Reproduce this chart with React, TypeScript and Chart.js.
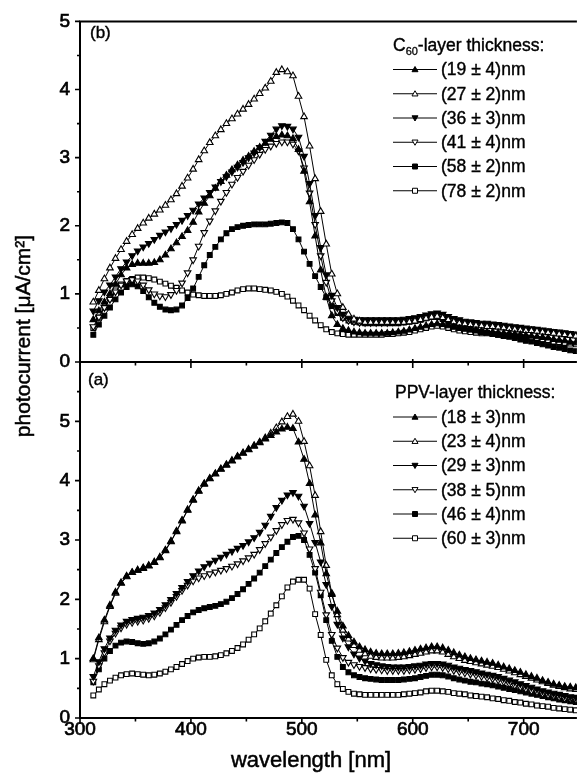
import React, { useEffect, useRef } from 'react';
import { Chart, registerables } from 'chart.js';

Chart.register(...registerables);

const FAMILY = '"Liberation Sans", Arial, Helvetica, sans-serif';

// sampling grid (nm)
const wavelength = [
  312, 317, 322, 327, 332, 337, 342, 347, 352, 357,
  362, 367, 372, 377, 382, 387, 392, 397, 402, 407,
  412, 417, 422, 427, 432, 437, 442, 447, 452, 457,
  462, 467, 472, 477, 482, 487, 492, 497, 502, 507,
  512, 517, 522, 527, 532, 537, 542, 547, 552, 557,
  562, 567, 572, 577, 582, 587, 592, 597, 602, 607,
  612, 617, 622, 627, 632, 637, 642, 647, 652, 657,
  662, 667, 672, 677, 682, 687, 692, 697, 702, 707,
  712, 717, 722, 727, 732, 737, 742, 747,
];

// ---- panel (b): C60-layer thickness ----
const c60_19 = [
  0.62, 0.75, 0.88, 1.00, 1.14, 1.28, 1.38, 1.43, 1.45, 1.45,
  1.45, 1.46, 1.50, 1.57, 1.66, 1.75, 1.84, 1.93, 2.05, 2.20,
  2.33, 2.44, 2.55, 2.65, 2.74, 2.82, 2.89, 2.96, 3.02, 3.09,
  3.15, 3.21, 3.27, 3.31, 3.33, 3.32, 3.28, 3.12, 2.80, 2.35,
  1.85, 1.35, 0.95, 0.68, 0.55, 0.49, 0.46, 0.44, 0.43, 0.42,
  0.42, 0.42, 0.42, 0.42, 0.43, 0.44, 0.45, 0.47, 0.49, 0.51,
  0.53, 0.55, 0.56, 0.55, 0.53, 0.51, 0.49, 0.48, 0.47, 0.46,
  0.45, 0.44, 0.44, 0.43, 0.42, 0.42, 0.41, 0.40, 0.39, 0.38,
  0.37, 0.36, 0.35, 0.33, 0.32, 0.31, 0.29, 0.28,
];
const c60_27 = [
  0.88, 1.05, 1.22, 1.38, 1.52, 1.65, 1.77, 1.87, 1.96, 2.04,
  2.11, 2.17, 2.23, 2.30, 2.38, 2.47, 2.58, 2.70, 2.83, 2.97,
  3.10, 3.22, 3.32, 3.41, 3.50, 3.57, 3.64, 3.71, 3.78, 3.86,
  3.94, 4.02, 4.12, 4.25, 4.29, 4.26, 4.20, 3.90, 3.60, 3.17,
  2.69, 2.21, 1.73, 1.29, 1.00, 0.80, 0.70, 0.63, 0.60, 0.58,
  0.58, 0.58, 0.58, 0.58, 0.58, 0.58, 0.58, 0.59, 0.60, 0.62,
  0.64, 0.66, 0.67, 0.65, 0.62, 0.59, 0.57, 0.56, 0.55, 0.54,
  0.53, 0.52, 0.52, 0.51, 0.50, 0.49, 0.48, 0.47, 0.46, 0.46,
  0.45, 0.44, 0.43, 0.42, 0.41, 0.40, 0.39, 0.38,
];
const c60_36 = [
  0.75, 0.90, 1.03, 1.13, 1.25, 1.37, 1.47, 1.56, 1.63, 1.69,
  1.74, 1.80, 1.86, 1.91, 1.96, 2.02, 2.08, 2.15, 2.23, 2.32,
  2.41, 2.49, 2.57, 2.65, 2.72, 2.79, 2.86, 2.93, 3.00, 3.07,
  3.15, 3.24, 3.33, 3.42, 3.47, 3.46, 3.42, 3.30, 3.02, 2.62,
  2.15, 1.68, 1.28, 0.98, 0.80, 0.70, 0.65, 0.63, 0.62, 0.62,
  0.62, 0.62, 0.62, 0.62, 0.62, 0.62, 0.63, 0.64, 0.65, 0.67,
  0.69, 0.71, 0.72, 0.70, 0.67, 0.64, 0.62, 0.60, 0.59, 0.58,
  0.57, 0.57, 0.56, 0.55, 0.54, 0.53, 0.52, 0.51, 0.50, 0.49,
  0.48, 0.47, 0.46, 0.45, 0.44, 0.43, 0.42, 0.41,
];
const c60_41 = [
  0.52, 0.66, 0.80, 0.92, 1.03, 1.13, 1.19, 1.21, 1.19, 1.13,
  1.06, 1.00, 0.97, 0.96, 0.99, 1.05, 1.16, 1.31, 1.50, 1.70,
  1.90, 2.07, 2.22, 2.36, 2.49, 2.61, 2.71, 2.80, 2.89, 2.97,
  3.05, 3.12, 3.17, 3.21, 3.23, 3.23, 3.20, 3.10, 2.85, 2.48,
  2.02, 1.56, 1.17, 0.90, 0.74, 0.65, 0.61, 0.59, 0.58, 0.58,
  0.58, 0.58, 0.58, 0.58, 0.59, 0.59, 0.60, 0.61, 0.62, 0.64,
  0.66, 0.68, 0.69, 0.67, 0.64, 0.61, 0.59, 0.57, 0.56, 0.55,
  0.54, 0.54, 0.53, 0.52, 0.51, 0.50, 0.49, 0.48, 0.47, 0.46,
  0.45, 0.44, 0.43, 0.42, 0.41, 0.40, 0.39, 0.38,
];
const c60_58 = [
  0.40, 0.55, 0.68, 0.80, 0.92, 1.02, 1.10, 1.14, 1.11, 1.04,
  0.95, 0.87, 0.81, 0.77, 0.76, 0.77, 0.83, 0.94, 1.08, 1.25,
  1.42, 1.57, 1.69, 1.80, 1.89, 1.95, 1.98, 2.00, 2.01, 2.02,
  2.02, 2.02, 2.03, 2.04, 2.05, 2.04, 1.95, 1.80, 1.62, 1.44,
  1.26, 1.10, 0.95, 0.82, 0.72, 0.65, 0.61, 0.59, 0.58, 0.57,
  0.57, 0.57, 0.57, 0.57, 0.57, 0.57, 0.58, 0.59, 0.60, 0.62,
  0.64, 0.66, 0.66, 0.63, 0.59, 0.55, 0.52, 0.50, 0.48, 0.46,
  0.44, 0.43, 0.41, 0.40, 0.38, 0.37, 0.35, 0.33, 0.31, 0.30,
  0.28, 0.26, 0.24, 0.22, 0.21, 0.19, 0.17, 0.16,
];
const c60_78 = [
  0.50, 0.65, 0.80, 0.93, 1.05, 1.14, 1.19, 1.22, 1.24, 1.24,
  1.23, 1.21, 1.18, 1.15, 1.12, 1.09, 1.05, 1.02, 0.99, 0.98,
  0.97, 0.97, 0.97, 0.98, 1.00, 1.02, 1.05, 1.07, 1.08, 1.08,
  1.07, 1.06, 1.05, 1.03, 1.00, 0.96, 0.90, 0.83, 0.76, 0.68,
  0.61, 0.54, 0.48, 0.44, 0.42, 0.41, 0.40, 0.40, 0.40, 0.40,
  0.40, 0.40, 0.40, 0.41, 0.41, 0.42, 0.43, 0.44, 0.46, 0.48,
  0.50, 0.52, 0.53, 0.52, 0.50, 0.48, 0.46, 0.45, 0.44, 0.43,
  0.42, 0.42, 0.41, 0.40, 0.39, 0.39, 0.38, 0.37, 0.36, 0.35,
  0.34, 0.33, 0.32, 0.30, 0.29, 0.28, 0.27, 0.26,
];

// ---- panel (a): PPV-layer thickness ----
const ppv_18 = [
  1.00, 1.35, 1.65, 1.90, 2.12, 2.28, 2.39, 2.45, 2.49, 2.52,
  2.56, 2.62, 2.70, 2.82, 2.97, 3.14, 3.32, 3.50, 3.67, 3.82,
  3.94, 4.03, 4.11, 4.19, 4.26, 4.33, 4.40, 4.46, 4.52, 4.58,
  4.64, 4.70, 4.76, 4.82, 4.87, 4.90, 4.88, 4.65, 4.36, 3.95,
  3.42, 2.95, 2.43, 2.08, 1.80, 1.55, 1.39, 1.28, 1.20, 1.15,
  1.11, 1.09, 1.08, 1.08, 1.08, 1.09, 1.10, 1.12, 1.14, 1.16,
  1.18, 1.20, 1.20, 1.18, 1.14, 1.10, 1.06, 1.03, 1.00, 0.98,
  0.96, 0.94, 0.92, 0.89, 0.86, 0.83, 0.80, 0.77, 0.73, 0.70,
  0.67, 0.63, 0.60, 0.57, 0.55, 0.53, 0.52, 0.51,
];
const ppv_23 = [
  0.98, 1.32, 1.62, 1.88, 2.10, 2.27, 2.38, 2.45, 2.49, 2.53,
  2.57, 2.63, 2.71, 2.83, 2.98, 3.15, 3.33, 3.51, 3.68, 3.83,
  3.95, 4.04, 4.12, 4.20, 4.27, 4.34, 4.41, 4.47, 4.53, 4.59,
  4.65, 4.72, 4.80, 4.89, 4.99, 5.08, 5.12, 5.00, 4.66, 4.25,
  3.75, 3.14, 2.57, 2.10, 1.74, 1.48, 1.33, 1.22, 1.14, 1.08,
  1.04, 1.02, 1.01, 1.01, 1.01, 1.02, 1.03, 1.05, 1.07, 1.09,
  1.11, 1.13, 1.13, 1.11, 1.07, 1.03, 1.00, 0.97, 0.95, 0.93,
  0.91, 0.89, 0.87, 0.85, 0.82, 0.79, 0.76, 0.73, 0.70, 0.67,
  0.64, 0.61, 0.58, 0.55, 0.53, 0.51, 0.49, 0.48,
];
const ppv_29 = [
  0.70, 0.95, 1.17, 1.35, 1.48, 1.57, 1.63, 1.66, 1.68, 1.70,
  1.73, 1.77, 1.83, 1.91, 2.00, 2.10, 2.20, 2.30, 2.40, 2.48,
  2.55, 2.61, 2.66, 2.71, 2.76, 2.81, 2.86, 2.91, 2.97, 3.04,
  3.13, 3.25, 3.40, 3.55, 3.67, 3.76, 3.80, 3.74, 3.57, 3.28,
  2.96, 2.63, 2.25, 1.88, 1.58, 1.35, 1.20, 1.08, 1.01, 0.96,
  0.92, 0.90, 0.88, 0.87, 0.86, 0.86, 0.86, 0.87, 0.88, 0.89,
  0.91, 0.92, 0.92, 0.91, 0.89, 0.86, 0.84, 0.82, 0.80, 0.78,
  0.76, 0.74, 0.72, 0.70, 0.67, 0.64, 0.61, 0.58, 0.55, 0.52,
  0.49, 0.46, 0.44, 0.42, 0.40, 0.38, 0.36, 0.35,
];
const ppv_38 = [
  0.62, 0.88, 1.10, 1.30, 1.43, 1.52, 1.58, 1.61, 1.63, 1.65,
  1.68, 1.72, 1.78, 1.86, 1.95, 2.05, 2.15, 2.24, 2.31, 2.36,
  2.40, 2.43, 2.46, 2.49, 2.52, 2.56, 2.60, 2.65, 2.70, 2.76,
  2.84, 2.94, 3.05, 3.16, 3.26, 3.33, 3.35, 3.29, 3.12, 2.85,
  2.52, 2.12, 1.74, 1.41, 1.18, 1.02, 0.94, 0.90, 0.87, 0.85,
  0.83, 0.82, 0.81, 0.80, 0.80, 0.80, 0.80, 0.81, 0.82, 0.83,
  0.85, 0.86, 0.86, 0.85, 0.83, 0.80, 0.78, 0.76, 0.74, 0.72,
  0.70, 0.68, 0.66, 0.64, 0.61, 0.58, 0.55, 0.52, 0.49, 0.46,
  0.44, 0.41, 0.39, 0.37, 0.35, 0.33, 0.32, 0.31,
];
const ppv_46 = [
  0.60, 0.82, 1.00, 1.13, 1.22, 1.27, 1.29, 1.28, 1.26, 1.25,
  1.26, 1.29, 1.34, 1.41, 1.49, 1.57, 1.65, 1.72, 1.78, 1.82,
  1.85, 1.87, 1.89, 1.92, 1.96, 2.02, 2.09, 2.17, 2.26, 2.35,
  2.45, 2.56, 2.67, 2.78, 2.88, 2.97, 3.05, 3.07, 3.00, 2.75,
  2.45, 2.07, 1.65, 1.30, 1.03, 0.86, 0.77, 0.72, 0.69, 0.67,
  0.66, 0.65, 0.64, 0.64, 0.64, 0.64, 0.65, 0.66, 0.67, 0.69,
  0.71, 0.73, 0.73, 0.72, 0.70, 0.67, 0.65, 0.63, 0.61, 0.60,
  0.58, 0.57, 0.55, 0.53, 0.51, 0.49, 0.47, 0.45, 0.43, 0.41,
  0.39, 0.37, 0.35, 0.33, 0.31, 0.30, 0.28, 0.27,
];
const ppv_60 = [
  0.38, 0.48, 0.57, 0.63, 0.68, 0.72, 0.74, 0.75, 0.74, 0.73,
  0.72, 0.73, 0.75, 0.78, 0.82, 0.86, 0.91, 0.96, 1.00, 1.02,
  1.03, 1.03, 1.04, 1.06, 1.09, 1.13, 1.18, 1.24, 1.32, 1.41,
  1.51, 1.63, 1.76, 1.90, 2.05, 2.20, 2.30, 2.33, 2.33, 2.18,
  1.75, 1.40, 0.98, 0.72, 0.57, 0.49, 0.44, 0.41, 0.40, 0.39,
  0.39, 0.39, 0.39, 0.39, 0.39, 0.39, 0.40, 0.41, 0.42, 0.43,
  0.45, 0.46, 0.46, 0.45, 0.44, 0.42, 0.41, 0.40, 0.38, 0.37,
  0.36, 0.35, 0.33, 0.32, 0.30, 0.29, 0.27, 0.26, 0.24, 0.23,
  0.21, 0.20, 0.19, 0.17, 0.16, 0.15, 0.14, 0.13,
];

const c60Labels = ['(19 ± 4)nm', '(27 ± 2)nm', '(36 ± 3)nm', '(41 ± 4)nm', '(58 ± 2)nm', '(78 ± 2)nm'];
const ppvLabels = ['(18 ± 3)nm', '(23 ± 4)nm', '(29 ± 3)nm', '(38 ± 5)nm', '(46 ± 4)nm', '(60 ± 3)nm'];

const xMajor = [300, 400, 500, 600, 700];
const xMinor = [350, 450, 550, 650];
const yMajorTop = [0, 1, 2, 3, 4, 5];
const yMinorTop = [0.5, 1.5, 2.5, 3.5, 4.5];
const yMajorBottom = [0, 1, 2, 3, 4, 5];
const yMinorBottom = [0.5, 1.5, 2.5, 3.5, 4.5, 5.5];

type Mk = { style: 'triangle' | 'rect'; rot: number; filled: boolean };
const markers: Mk[] = [
  { style: 'triangle', rot: 0, filled: true },
  { style: 'triangle', rot: 0, filled: false },
  { style: 'triangle', rot: 180, filled: true },
  { style: 'triangle', rot: 180, filled: false },
  { style: 'rect', rot: 0, filled: true },
  { style: 'rect', rot: 0, filled: false },
];

function makeDatasets(series: number[][], labels: string[]) {
  return series.map((vals, i) => ({
    label: labels[i],
    data: wavelength.map((x, j) => ({ x, y: vals[j] })),
    borderColor: '#000',
    borderWidth: 1,
    pointStyle: markers[i].style,
    pointRotation: markers[i].rot,
    pointRadius: markers[i].style === 'rect' ? 3.4 : 3.8,
    pointBackgroundColor: markers[i].filled ? '#000' : '#fff',
    pointBorderColor: '#000',
    pointBorderWidth: 1.1,
    tension: 0,
    fill: false,
  }));
}

function drawLegendMarker(ctx: CanvasRenderingContext2D, mk: Mk, x: number, y: number) {
  ctx.beginPath();
  if (mk.style === 'rect') {
    ctx.rect(x - 2.5, y - 2.5, 5, 5);
  } else if (mk.rot === 0) {
    ctx.moveTo(x, y - 3);
    ctx.lineTo(x + 3, y + 2.2);
    ctx.lineTo(x - 3, y + 2.2);
    ctx.closePath();
  } else {
    ctx.moveTo(x, y + 3);
    ctx.lineTo(x + 3, y - 2.2);
    ctx.lineTo(x - 3, y - 2.2);
    ctx.closePath();
  }
  ctx.fillStyle = mk.filled ? '#000' : '#fff';
  ctx.fill();
  ctx.lineWidth = 1;
  ctx.strokeStyle = '#000';
  ctx.stroke();
}

function heavyText(ctx: CanvasRenderingContext2D, s: string, x: number, y: number, w = 0.5) {
  ctx.fillText(s, x, y);
  ctx.lineWidth = w;
  ctx.strokeStyle = '#000';
  ctx.strokeText(s, x, y);
}

function framePlugin(isTop: boolean) {
  return {
    id: 'frame' + (isTop ? 'Top' : 'Bottom'),
    afterDraw(chart: any) {
      const { ctx, chartArea: a, scales } = chart;
      const xs = scales.x;
      const ys = scales.y;
      ctx.save();
      ctx.strokeStyle = '#000';
      ctx.lineWidth = 2;
      ctx.beginPath();
      ctx.moveTo(a.left, a.top - (isTop ? 1 : 0));
      ctx.lineTo(a.left, a.bottom + 1);
      ctx.moveTo(a.left - 1, a.bottom);
      ctx.lineTo(a.right, a.bottom);
      if (isTop) {
        ctx.moveTo(a.left - 1, a.top);
        ctx.lineTo(a.right, a.top);
      }
      ctx.stroke();
      ctx.lineWidth = 1.6;
      ctx.beginPath();
      const yMaj = isTop ? yMajorTop : yMajorBottom;
      const yMin = isTop ? yMinorTop : yMinorBottom;
      yMaj.forEach((v) => {
        const p = ys.getPixelForValue(v);
        ctx.moveTo(a.left - 5, p);
        ctx.lineTo(a.left, p);
      });
      yMin.forEach((v) => {
        const p = ys.getPixelForValue(v);
        ctx.moveTo(a.left - 3, p);
        ctx.lineTo(a.left, p);
      });
      xMajor.forEach((v) => {
        const p = xs.getPixelForValue(v);
        ctx.moveTo(p, a.bottom - (isTop ? 3 : 0));
        ctx.lineTo(p, a.bottom + 6);
      });
      xMinor.forEach((v) => {
        const p = xs.getPixelForValue(v);
        ctx.moveTo(p, a.bottom - (isTop ? 1 : 0));
        ctx.lineTo(p, a.bottom + 3.5);
      });
      ctx.stroke();
      ctx.restore();
    },
  };
}

function legendPlugin(isTop: boolean) {
  return {
    id: 'legendBox' + (isTop ? 'Top' : 'Bottom'),
    afterDraw(chart: any) {
      const ctx: CanvasRenderingContext2D = chart.ctx;
      const labels = isTop ? c60Labels : ppvLabels;
      const headerBase = isTop ? 51 : 398;
      const row0 = isTop ? 69.5 : 417;
      const step = 24.25;
      ctx.save();
      ctx.fillStyle = '#000';
      ctx.textAlign = 'left';
      ctx.textBaseline = 'alphabetic';
      const big = `17.5px ${FAMILY}`;
      ctx.font = big;
      if (isTop) {
        let x = 393;
        heavyText(ctx, 'C', x, headerBase, 0.4);
        x += ctx.measureText('C').width;
        ctx.font = `11px ${FAMILY}`;
        heavyText(ctx, '60', x, headerBase + 4, 0.3);
        x += ctx.measureText('60').width;
        ctx.font = big;
        heavyText(ctx, '-layer thickness:', x, headerBase, 0.4);
      } else {
        heavyText(ctx, 'PPV-layer thickness:', 395, headerBase, 0.4);
      }
      labels.forEach((lab, i) => {
        const y = row0 + i * step;
        ctx.beginPath();
        ctx.moveTo(393, y);
        ctx.lineTo(437, y);
        ctx.lineWidth = 1;
        ctx.strokeStyle = '#000';
        ctx.stroke();
        drawLegendMarker(ctx, markers[i], 415, y);
        ctx.fillStyle = '#000';
        ctx.font = big;
        ctx.textBaseline = 'middle';
        heavyText(ctx, lab, 441, y + 1, 0.4);
      });
      // panel letter
      ctx.font = `17px ${FAMILY}`;
      ctx.textBaseline = 'middle';
      heavyText(ctx, isTop ? '(b)' : '(a)', isTop ? 90 : 88, isTop ? 33 : 380, 0.4);
      if (!isTop) {
        // axis titles
        ctx.font = `22px ${FAMILY}`;
        ctx.textAlign = 'center';
        heavyText(ctx, 'wavelength [nm]', 311, 761, 0.5);
        ctx.translate(24, 336);
        ctx.rotate(-Math.PI / 2);
        ctx.font = `21px ${FAMILY}`;
        heavyText(ctx, 'photocurrent [μA/cm²]', 0, 0, 0.5);
      }
      ctx.restore();
    },
  };
}

const tickFont = { family: FAMILY, size: 19 };

function makeConfig(isTop: boolean): any {
  const series = isTop
    ? [c60_19, c60_27, c60_36, c60_41, c60_58, c60_78]
    : [ppv_18, ppv_23, ppv_29, ppv_38, ppv_46, ppv_60];
  const labels = isTop ? c60Labels : ppvLabels;
  return {
    type: 'line',
    data: { datasets: makeDatasets(series, labels) },
    options: {
      animation: false,
      responsive: false,
      maintainAspectRatio: false,
      devicePixelRatio: 1,
      layout: { padding: isTop ? { top: 16, bottom: 421, left: 0, right: 0 } : { top: 362, bottom: 0, left: 0, right: 0 } },
      plugins: { legend: { display: false }, tooltip: { enabled: false }, title: { display: false } },
      events: [],
      scales: {
        x: {
          type: 'linear',
          min: 300,
          max: 748,
          display: !isTop,
          afterFit: (s: any) => { s.height = isTop ? 0 : 65; },
          ticks: { stepSize: 100, includeBounds: false, color: '#000', font: tickFont, padding: 0, maxRotation: 0, autoSkip: false, textStrokeColor: '#000', textStrokeWidth: 0.7 },
          grid: { display: false, drawTicks: false },
          border: { display: false },
        },
        y: {
          type: 'linear',
          min: 0,
          max: isTop ? 5 : 6,
          afterFit: (s: any) => { s.width = 80; },
          ticks: {
            stepSize: 1,
            color: '#000',
            font: tickFont,
            padding: 10,
            textStrokeColor: '#000',
            textStrokeWidth: 0.7,
            callback: (v: number) => (v <= 5 ? String(v) : ''),
          },
          grid: { display: false, drawTicks: false },
          border: { display: false },
        },
      },
    },
    plugins: [framePlugin(isTop), legendPlugin(isTop)],
  };
}

export default function App() {
  const topRef = useRef<HTMLCanvasElement>(null);
  const botRef = useRef<HTMLCanvasElement>(null);
  useEffect(() => {
    const top = new Chart(topRef.current as HTMLCanvasElement, makeConfig(true));
    const bot = new Chart(botRef.current as HTMLCanvasElement, makeConfig(false));
    return () => {
      top.destroy();
      bot.destroy();
    };
  }, []);
  const cs: React.CSSProperties = { position: 'absolute', left: 0, top: 0, width: 582, height: 783 };
  return (
    <div style={{ position: 'absolute', left: 0, top: 0, width: 582, height: 783, background: '#fff', overflow: 'hidden' }}>
      <canvas ref={topRef} width={582} height={783} style={cs} />
      <canvas ref={botRef} width={582} height={783} style={cs} />
    </div>
  );
}
